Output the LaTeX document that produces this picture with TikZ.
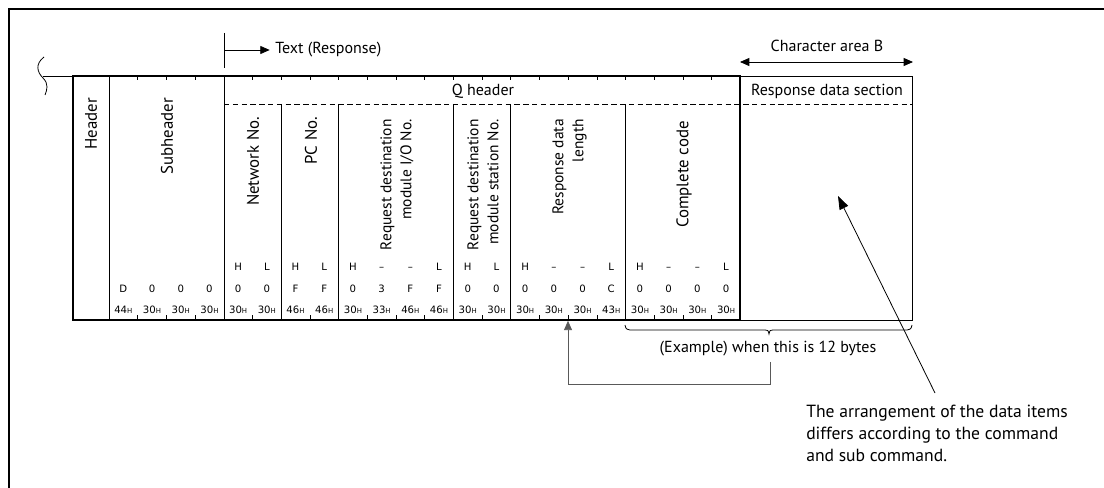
\documentclass[tikz,border=0pt]{standalone}
\usepackage{fontspec}
\setmainfont{PT Sans}
\newfontfamily\cellfont{DejaVu Sans}
\usetikzlibrary{arrows.meta}
\begin{document}
\begin{tikzpicture}[x=0.75pt,y=-0.75pt,
  lbl/.style={font=\fontsize{12}{13}\selectfont, inner sep=0pt},
  vlbl/.style={font=\fontsize{12.6}{15}\selectfont, rotate=90, anchor=east, align=right, inner sep=0pt},
  vlbltwo/.style={vlbl, font=\fontsize{11.6}{15}\selectfont},
  cell/.style={font=\cellfont\fontsize{7.6}{8}\selectfont, inner sep=0pt},
  frameline/.style={line width=1.6pt},
  tableborder/.style={line width=1.5pt},
  thinline/.style={line width=0.6pt},
  qdashed/.style={line width=0.6pt, dash pattern=on 4pt off 2.6pt},
  conn/.style={line width=0.6pt, draw=black!65},
  tip/.style={-{Triangle[length=7pt,width=6pt]}}
]
\useasboundingbox (0,0) rectangle (1104,488);
% outer frame (partly visible)
\draw[frameline] (9,488) -- (9,9) -- (1104,9);

% byte boundaries
\def\bx#1{109+28.7*(#1)}

% left wave and extension line
\draw[thinline] (44,57) .. controls (35,64) and (37,72) .. (43,78) .. controls (49,84) and (47,90) .. (45,95);
\coordinate (ext) at (43,76);
\coordinate (tl) at (73,76);
\draw[thinline] (ext) -- (tl);

% response data section box
\draw[thinline] (740,76) rectangle (912,320);

% dashed line
\draw[qdashed] (224,104) -- (912,104);

% column lines
\draw[thinline] (109,76) -- (109,320);
\draw[thinline] (224,76) -- (224,320);
\foreach \i in {6,8,12,14,18}{
  \draw[thinline] ({\bx{\i}},104) -- ({\bx{\i}},320);
}
% top ticks
\foreach \i in {1,2,3,5,6,7,8,9,10,11,12,13,14,15,16,17,18,19,20,21}{
  \draw[thinline] ({\bx{\i}},76) -- ({\bx{\i}},80.5);
}
% bottom ticks
\foreach \i in {1,2,3,5,7,9,10,11,13,15,16,17,19,20,21}{
  \draw[thinline] ({\bx{\i}},320) -- ({\bx{\i}},315.5);
}
% thick border
\draw[tableborder] (73,76) rectangle (740.4,320);

% Text (Response)
\coordinate (tr0) at (224,33);
\coordinate (tr1) at (224,68);
\draw[thinline] (tr0) -- (tr1);
\node[lbl, anchor=west] (txtresp) at (275,50) {Text (Response)};
\draw[thinline, tip, shorten >=4pt] (224,50) -- (txtresp.west);

% Character area B
\node[lbl] (charB) at (827,46) {Character area B};
\coordinate (cbL) at (740,62);
\coordinate (cbR) at (913,62);
\draw[thinline, {Triangle[length=7pt,width=6pt]}-{Triangle[length=7pt,width=6pt]}] (cbL) -- (cbR);

% headings
\node[lbl] (qh) at (483,91) {Q header};
\node[lbl] (rds) at (827,91) {Response data section};

% vertical labels
\node[vlbl] (hdr) at (91,98) {Header};
\node[vlbl] (sub) at (167,98) {Subheader};
\node[vlbl] (net) at (253,117) {Network No.};
\node[vlbl] (pc) at (311,117) {PC No.};
\node[vlbltwo] (io) at (397,119) {Request destination\\module I/O No.};
\node[vlbltwo] (st) at (483,119) {Request destination\\module station No.};
\node[vlbltwo] (rdl) at (569.5,119) {Response data\\length};
\node[vlbl] (cc) at (684,121) {Complete code};

% H/L row
\foreach \i/\t in {4/H,5/L,6/H,7/L,8/H,9/–,10/–,11/L,12/H,13/L,14/H,15/–,16/–,17/L,18/H,19/–,20/–,21/L}{
  \node[cell, anchor=base] (hl\i) at ({\bx{\i+0.5}},270.5) {\t};
}
% value row
\foreach \i/\t in {0/D,1/0,2/0,3/0,4/0,5/0,6/F,7/F,8/0,9/3,10/F,11/F,12/0,13/0,14/0,15/0,16/0,17/C,18/0,19/0,20/0,21/0}{
  \node[cell, anchor=base] (v\i) at ({\bx{\i+0.5}},292.5) {\t};
}
% hex row
\foreach \i/\t in {0/44,1/30,2/30,3/30,4/30,5/30,6/46,7/46,8/30,9/33,10/46,11/46,12/30,13/30,14/30,15/30,16/30,17/43,18/30,19/30,20/30,21/30}{
  \node[cell, anchor=base] (hx\i) at ({\bx{\i+0.5}},313.5) {\t{\fontsize{5.2}{6}\selectfont H}};
}

% brace
\draw[thinline] (625,325) .. controls (626,329) .. (630,330) -- (765,330) .. controls (768,330) .. (769,334) .. controls (770,330) .. (773,330) -- (907,330) .. controls (911,329) .. (912,325);
\node[lbl] (ex) at (768,349) {(Example) when this is 12 bytes};

% connector to response data length
\coordinate (c1) at (770,362);
\coordinate (c2) at (770,384);
\coordinate (c3) at (568,384);
\coordinate (c4) at (568,320.8);
\draw[conn, -{Triangle[length=7pt,width=6pt]}] (c1) -- (c2) -- (c3) -- (c4);

% note and diagonal arrow
\node[font=\fontsize{13.2}{16.5}\selectfont, align=left, anchor=north west, inner sep=0pt] (note) at (806,405)
  {The arrangement of the data items\\differs according to the command\\and sub command.};
\coordinate (d0) at (935,393);
\coordinate (d1) at (838,196);
\draw[thinline, -{Triangle[length=10pt,width=7pt]}] (d0) -- (d1);
\end{tikzpicture}
\end{document}
